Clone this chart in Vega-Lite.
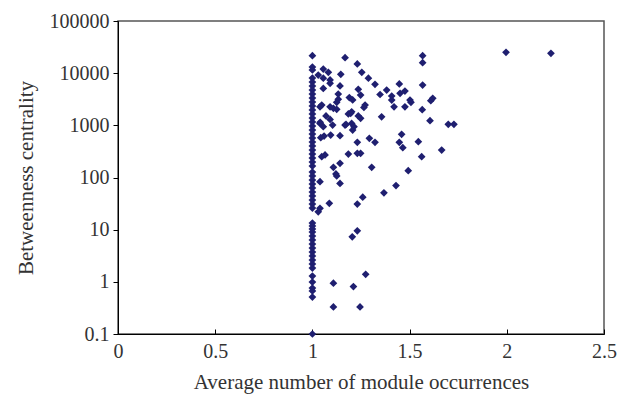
{
  "$schema": "https://vega.github.io/schema/vega-lite/v6.json",
  "width": 486,
  "height": 313,
  "autosize": "none",
  "padding": {"left": 118, "top": 21, "right": 29, "bottom": 65},
  "background": "white",
  "config": {
    "view": {"stroke": "#555", "strokeWidth": 1.5},
    "font": "Liberation Serif",
    "axis": {"grid": false, "domainColor": "#000", "tickColor": "#000", "labelColor": "#333", "titleColor": "#333", "labelFont": "Liberation Serif", "titleFont": "Liberation Serif", "labelFontSize": 20, "titleFontSize": 21, "titleFontWeight": "normal"}
  },
  "data": {
    "values": [
      {"x": 1, "y": 21600}, {"x": 1, "y": 13100}, {"x": 1, "y": 11500}, {"x": 1, "y": 8070}, {"x": 1, "y": 6760},
      {"x": 1, "y": 5670}, {"x": 1, "y": 4750}, {"x": 1, "y": 3980}, {"x": 1, "y": 3340}, {"x": 1, "y": 2800},
      {"x": 1, "y": 2350}, {"x": 1, "y": 1970}, {"x": 1, "y": 1650}, {"x": 1, "y": 1380}, {"x": 1, "y": 1160},
      {"x": 1, "y": 970}, {"x": 1, "y": 813}, {"x": 1, "y": 682}, {"x": 1, "y": 571}, {"x": 1, "y": 479},
      {"x": 1, "y": 402}, {"x": 1, "y": 336}, {"x": 1, "y": 282}, {"x": 1, "y": 236}, {"x": 1, "y": 198},
      {"x": 1, "y": 166}, {"x": 1, "y": 127}, {"x": 1, "y": 107}, {"x": 1, "y": 89.5}, {"x": 1, "y": 75},
      {"x": 1, "y": 63}, {"x": 1, "y": 52.7}, {"x": 1, "y": 44.2}, {"x": 1, "y": 37}, {"x": 1, "y": 31},
      {"x": 1, "y": 26}, {"x": 1, "y": 13.4}, {"x": 1, "y": 11.8}, {"x": 1, "y": 10.3}, {"x": 1, "y": 9.0},
      {"x": 1, "y": 7.55}, {"x": 1, "y": 6.34}, {"x": 1, "y": 5.31}, {"x": 1, "y": 4.45}, {"x": 1, "y": 3.73},
      {"x": 1, "y": 3.13}, {"x": 1, "y": 2.62}, {"x": 1, "y": 2.2}, {"x": 1, "y": 1.84}, {"x": 1, "y": 1.29},
      {"x": 1, "y": 0.99}, {"x": 1, "y": 0.76}, {"x": 1, "y": 0.67}, {"x": 1, "y": 0.51}, {"x": 1, "y": 0.1},
      {"x": 1.168, "y": 19800}, {"x": 1.231, "y": 15000}, {"x": 1.056, "y": 12000}, {"x": 1.082, "y": 10400},
      {"x": 1.146, "y": 9500}, {"x": 1.254, "y": 10400}, {"x": 1.03, "y": 9200}, {"x": 1.056, "y": 8000},
      {"x": 1.091, "y": 7400}, {"x": 1.091, "y": 6400}, {"x": 1.288, "y": 8000}, {"x": 1.322, "y": 6100},
      {"x": 1.447, "y": 6200}, {"x": 1.567, "y": 21600}, {"x": 1.567, "y": 15900}, {"x": 1.567, "y": 5900},
      {"x": 1.142, "y": 5700}, {"x": 1.056, "y": 5100}, {"x": 1.19, "y": 3400}, {"x": 1.207, "y": 3060},
      {"x": 1.133, "y": 3980}, {"x": 1.133, "y": 3160}, {"x": 1.236, "y": 4900}, {"x": 1.248, "y": 3800},
      {"x": 1.271, "y": 2450}, {"x": 1.265, "y": 2200}, {"x": 1.348, "y": 3900}, {"x": 1.382, "y": 4750},
      {"x": 1.408, "y": 3650}, {"x": 1.408, "y": 3050}, {"x": 1.42, "y": 2270}, {"x": 1.451, "y": 4100},
      {"x": 1.476, "y": 4550}, {"x": 1.502, "y": 3050}, {"x": 1.507, "y": 2760}, {"x": 1.476, "y": 2270},
      {"x": 1.565, "y": 2000}, {"x": 1.619, "y": 3300}, {"x": 1.609, "y": 2970}, {"x": 1.605, "y": 1230},
      {"x": 1.356, "y": 1460}, {"x": 1.039, "y": 2270}, {"x": 1.048, "y": 2450}, {"x": 1.091, "y": 2270},
      {"x": 1.108, "y": 2120}, {"x": 1.125, "y": 2030}, {"x": 1.185, "y": 1650}, {"x": 1.202, "y": 1820},
      {"x": 1.236, "y": 1510}, {"x": 1.248, "y": 1360}, {"x": 1.07, "y": 1510}, {"x": 1.091, "y": 1300},
      {"x": 1.104, "y": 1010}, {"x": 1.168, "y": 1010}, {"x": 1.202, "y": 1090}, {"x": 1.039, "y": 1090},
      {"x": 1.056, "y": 940}, {"x": 1.125, "y": 2760}, {"x": 1.173, "y": 1040}, {"x": 1.214, "y": 940},
      {"x": 1.207, "y": 813}, {"x": 1.094, "y": 652}, {"x": 1.142, "y": 632}, {"x": 1.06, "y": 624},
      {"x": 1.043, "y": 579}, {"x": 1.293, "y": 564}, {"x": 1.322, "y": 472}, {"x": 1.231, "y": 472},
      {"x": 1.248, "y": 291}, {"x": 1.231, "y": 291}, {"x": 1.459, "y": 673}, {"x": 1.447, "y": 472},
      {"x": 1.465, "y": 372}, {"x": 1.545, "y": 485}, {"x": 1.562, "y": 250}, {"x": 1.185, "y": 282},
      {"x": 1.048, "y": 251}, {"x": 1.065, "y": 270}, {"x": 1.699, "y": 1045}, {"x": 1.728, "y": 1045},
      {"x": 1.665, "y": 336}, {"x": 1.493, "y": 135}, {"x": 1.43, "y": 70}, {"x": 1.368, "y": 51},
      {"x": 1.305, "y": 157}, {"x": 1.142, "y": 187}, {"x": 1.108, "y": 157}, {"x": 1.121, "y": 117},
      {"x": 1.125, "y": 107}, {"x": 1.142, "y": 77}, {"x": 1.039, "y": 83}, {"x": 1.259, "y": 42},
      {"x": 1.231, "y": 31}, {"x": 1.087, "y": 32}, {"x": 1.039, "y": 25.6}, {"x": 1.03, "y": 22},
      {"x": 1.231, "y": 9.5}, {"x": 1.205, "y": 7.3}, {"x": 1.274, "y": 1.39}, {"x": 1.108, "y": 0.94},
      {"x": 1.211, "y": 0.81}, {"x": 1.108, "y": 0.33}, {"x": 1.245, "y": 0.33}, {"x": 1.996, "y": 25100},
      {"x": 2.227, "y": 24000}, {"x": 1.197, "y": 1700}, {"x": 1.04, "y": 1140}
    ]
  },
  "mark": {"type": "point", "shape": "diamond", "filled": true, "size": 60, "color": "#1f1f70", "opacity": 1},
  "encoding": {
    "x": {
      "field": "x", "type": "quantitative",
      "scale": {"domain": [0, 2.5], "nice": false, "zero": false},
      "axis": {"title": "Average number of module occurrences", "values": [0, 0.5, 1, 1.5, 2, 2.5], "format": "~g", "tickSize": -5, "labelPadding": 12, "titlePadding": 10, "labelFlush": false}
    },
    "y": {
      "field": "y", "type": "quantitative",
      "scale": {"type": "log", "domain": [0.1, 100000], "nice": false},
      "axis": {"title": "Betweenness centrality", "values": [0.1, 1, 10, 100, 1000, 10000, 100000], "format": "~g", "tickSize": 5, "labelPadding": 4, "titlePadding": 13, "labelFlush": false}
    }
  }
}
